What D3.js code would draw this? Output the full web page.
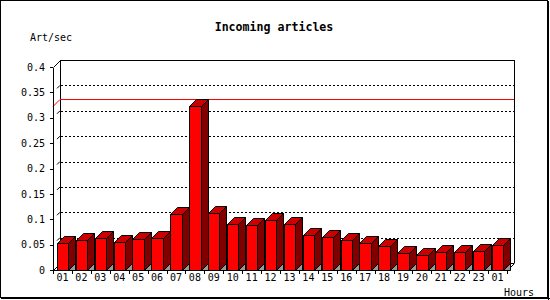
<!DOCTYPE html>
<html>
<head>
<meta charset="utf-8">
<script src="https://cdn.jsdelivr.net/npm/d3@7"></script>
<style>
  body { margin: 0; background: #fff; }
  text { font-family: "DejaVu Sans Mono", monospace; font-size: 10px; fill: #000; }
</style>
</head>
<body>
<div id="chart"></div>
<script>
// data
const hours = ["01","02","03","04","05","06","07","08","09","10","11","12",
               "13","14","15","16","17","18","19","20","21","22","23","01"];
const values = [0.053, 0.059, 0.064, 0.055, 0.061, 0.063, 0.110, 0.324, 0.112, 0.091, 0.088, 0.098,
                0.091, 0.068, 0.066, 0.060, 0.053, 0.047, 0.033, 0.029, 0.035, 0.035, 0.037, 0.049];
const yTicks = [0, 0.05, 0.1, 0.15, 0.2, 0.25, 0.3, 0.35, 0.4];

const width = 550, height = 300,
      margin = ({ top: 67, right: 36, bottom: 30, left: 53 }),
      depth = 7; // 3d offset of the back wall

let svg = d3.select("#chart")
    .append("svg")
    .attr("width", width)
    .attr("height", height)
    .attr("shape-rendering", "crispEdges");

let x = d3.scaleBand()
    .domain(d3.range(hours.length))
    .range([margin.left, width - margin.right - depth]);

let y = d3.scaleLinear()
    .domain([0, 0.4])
    .range([height - margin.bottom, margin.top]);

const x0 = x.range()[0], x1 = x.range()[1], y0 = y(0), yTop = y(0.4);

// outer frame
svg.append("rect")
    .attr("x", 0.5).attr("y", 0.5)
    .attr("width", 547).attr("height", 297)
    .attr("fill", "#fff").attr("stroke", "#000");
svg.append("path")
    .attr("d", "M548.5,1V299.5M1,298.5H549.5")
    .attr("stroke", "#000").attr("fill", "none");

// back wall
svg.append("path")
    .attr("d", `M${x0 + depth + 0.5},${y0 - depth}V${yTop - depth + 0.5}H${x1 + depth + 0.5}V${y0 - depth}`)
    .attr("fill", "none").attr("stroke", "#000");
svg.append("path")
    .attr("d", `M${x0 + depth},${y0 - depth + 0.5}H${x1 + depth}`)
    .attr("stroke", "#000");

// dotted grid on back wall
svg.append("g")
    .selectAll("line")
    .data(yTicks.filter(d => d > 0 && d < 0.4))
    .join("line")
    .attr("x1", x0 + depth + 1)
    .attr("x2", x1 + depth)
    .attr("y1", d => Math.round(y(d)) - depth + 0.5)
    .attr("y2", d => Math.round(y(d)) - depth + 0.5)
    .attr("stroke", "#000")
    .attr("stroke-dasharray", "2,2");

// small diagonal stubs next to the back wall
svg.append("g")
    .selectAll("line")
    .data(yTicks.filter(d => d > 0 && d < 0.4))
    .join("line")
    .attr("shape-rendering", "auto")
    .attr("x1", x0 + depth - 3)
    .attr("x2", x0 + depth)
    .attr("y1", d => y(d) - depth + 3)
    .attr("y2", d => y(d) - depth)
    .attr("stroke", "#000");

// top-left diagonal
svg.append("line")
    .attr("shape-rendering", "auto")
    .attr("x1", x0 + 0.5).attr("y1", yTop + 0.5)
    .attr("x2", x0 + depth + 0.5).attr("y2", yTop - depth + 0.5)
    .attr("stroke", "#000");

// max line (red)
const vmax = d3.max(values), ym = Math.round(y(vmax));
svg.append("path")
    .attr("d", `M${x0 + depth},${ym - depth + 0.5}H${x1 + depth}`)
    .attr("fill", "none")
    .attr("stroke", "#ff0000");
svg.append("path")
    .attr("shape-rendering", "auto")
    .attr("d", `M${x0},${ym + 0.5}L${x0 + depth},${ym - depth + 0.5}`)
    .attr("fill", "none")
    .attr("stroke", "#ff0000");

// floor edges
svg.append("path")
    .attr("shape-rendering", "auto")
    .attr("d", `M${x0 + 0.5},${y0 + 0.5}L${x0 + depth + 0.5},${y0 - depth + 0.5}M${x1 + 0.5},${y0 + 0.5}L${x1 + depth + 0.5},${y0 - depth + 0.5}`)
    .attr("stroke", "#000").attr("fill", "none");

// bars
const bw = x.bandwidth() * 0.6, bOff = x.bandwidth() * 0.2;

let bar = svg.selectAll(".bar")
    .data(values)
    .join("g")
    .attr("class", "bar")
    .attr("shape-rendering", "auto")
    .attr("stroke", "#000")
    .attr("stroke-width", 1)
    .attr("stroke-linejoin", "round");

bar.append("path") // floor shadow
    .attr("fill", "#999")
    .attr("d", (d, i) => {
        let r = Math.round(x(i) + bOff + bw) + 0.5;
        return `M${r},${y0 + 0.5}L${r + depth},${y0 - depth + 0.5}V${y0 + 0.5}Z`;
    });

bar.append("path") // side
    .attr("fill", "#800000")
    .attr("d", (d, i) => {
        let r = Math.round(x(i) + bOff + bw) + 0.5, t = Math.round(y(d)) + 0.5;
        return `M${r},${t}L${r + depth},${t - depth}V${y0 - depth + 0.5}L${r},${y0 + 0.5}Z`;
    });

bar.append("path") // top
    .attr("fill", "#cc0000")
    .attr("d", (d, i) => {
        let l = Math.round(x(i) + bOff) + 0.5, r = Math.round(x(i) + bOff + bw) + 0.5, t = Math.round(y(d)) + 0.5;
        return `M${l},${t}L${l + depth},${t - depth}H${r + depth}L${r},${t}Z`;
    });

bar.append("rect") // front
    .attr("fill", "#ff0000")
    .attr("x", (d, i) => Math.round(x(i) + bOff) + 0.5)
    .attr("y", d => Math.round(y(d)) + 0.5)
    .attr("width", (d, i) => Math.round(x(i) + bOff + bw) - Math.round(x(i) + bOff))
    .attr("height", d => Math.round(y0) - Math.round(y(d)));

// y axis
svg.append("g")
    .attr("transform", `translate(${x0},0)`)
    .call(d3.axisLeft(y).tickValues(yTicks).tickSize(3).tickSizeOuter(0).tickPadding(5)
        .tickFormat(d => String(+d.toFixed(2))))
    .call(g => g.select(".domain").attr("stroke", "#000"))
    .call(g => g.selectAll("text").style("font-size", "10px").style("font-family", "DejaVu Sans Mono"));

// x axis
svg.append("g")
    .attr("transform", `translate(0,${y0})`)
    .call(d3.axisBottom(x).tickSize(0).tickSizeOuter(0).tickPadding(4).tickFormat(i => hours[i]))
    .call(g => g.select(".domain").attr("stroke", "#000"))
    .call(g => g.selectAll("text").style("font-size", "10px").style("font-family", "DejaVu Sans Mono"));

svg.append("g") // band boundary ticks
    .selectAll("line")
    .data(d3.range(hours.length + 1))
    .join("line")
    .attr("x1", i => Math.round(x0 + i * x.step()) + 0.5)
    .attr("x2", i => Math.round(x0 + i * x.step()) + 0.5)
    .attr("y1", y0)
    .attr("y2", y0 + 4)
    .attr("stroke", "#000");

// labels
svg.append("text")
    .attr("x", 274)
    .attr("y", 31)
    .attr("text-anchor", "middle")
    .style("font-weight", "bold")
    .style("font-size", "11.6px")
    .text("Incoming articles");

svg.append("text")
    .attr("x", 30)
    .attr("y", 41)
    .text("Art/sec");

svg.append("text")
    .attr("x", 534)
    .attr("y", 296)
    .attr("text-anchor", "end")
    .text("Hours");
</script>
</body>
</html>
